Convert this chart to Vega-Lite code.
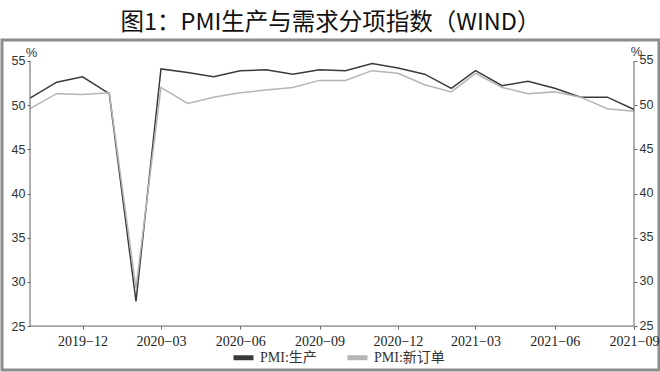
{
  "$schema": "https://vega.github.io/schema/vega-lite/v6.json",
  "width": 657,
  "height": 330,
  "autosize": {"type": "none"},
  "padding": {"left": 2, "top": 40, "right": 1, "bottom": 2},
  "background": "white",
  "title": {
    "text": "图1：PMI生产与需求分项指数（WIND）",
    "font": "Noto Sans CJK SC",
    "fontSize": 23.5,
    "fontWeight": "normal",
    "color": "#111111",
    "anchor": "middle",
    "frame": "group",
    "offset": 11,
    "dy": 24,
    "baseline": "alphabetic"
  },
  "config": {
    "view": {"stroke": "#8c8c8c", "strokeWidth": 3}
  },
  "data": {
    "values": [
      {"month": "2019-10-01", "PMI:生产": 50.8, "PMI:新订单": 49.6},
      {"month": "2019-11-01", "PMI:生产": 52.6, "PMI:新订单": 51.3},
      {"month": "2019-12-01", "PMI:生产": 53.2, "PMI:新订单": 51.2},
      {"month": "2020-01-01", "PMI:生产": 51.3, "PMI:新订单": 51.4},
      {"month": "2020-02-01", "PMI:生产": 27.8, "PMI:新订单": 29.3},
      {"month": "2020-03-01", "PMI:生产": 54.1, "PMI:新订单": 52.0},
      {"month": "2020-04-01", "PMI:生产": 53.7, "PMI:新订单": 50.2},
      {"month": "2020-05-01", "PMI:生产": 53.2, "PMI:新订单": 50.9},
      {"month": "2020-06-01", "PMI:生产": 53.9, "PMI:新订单": 51.4},
      {"month": "2020-07-01", "PMI:生产": 54.0, "PMI:新订单": 51.7},
      {"month": "2020-08-01", "PMI:生产": 53.5, "PMI:新订单": 52.0},
      {"month": "2020-09-01", "PMI:生产": 54.0, "PMI:新订单": 52.8},
      {"month": "2020-10-01", "PMI:生产": 53.9, "PMI:新订单": 52.8},
      {"month": "2020-11-01", "PMI:生产": 54.7, "PMI:新订单": 53.9},
      {"month": "2020-12-01", "PMI:生产": 54.2, "PMI:新订单": 53.6},
      {"month": "2021-01-01", "PMI:生产": 53.5, "PMI:新订单": 52.3},
      {"month": "2021-02-01", "PMI:生产": 51.9, "PMI:新订单": 51.5},
      {"month": "2021-03-01", "PMI:生产": 53.9, "PMI:新订单": 53.6},
      {"month": "2021-04-01", "PMI:生产": 52.2, "PMI:新订单": 52.0},
      {"month": "2021-05-01", "PMI:生产": 52.7, "PMI:新订单": 51.3},
      {"month": "2021-06-01", "PMI:生产": 51.9, "PMI:新订单": 51.5},
      {"month": "2021-07-01", "PMI:生产": 50.9, "PMI:新订单": 50.9},
      {"month": "2021-08-01", "PMI:生产": 50.9, "PMI:新订单": 49.6},
      {"month": "2021-09-01", "PMI:生产": 49.5, "PMI:新订单": 49.3}
    ]
  },
  "layer": [
    {
      "transform": [{"fold": ["PMI:生产", "PMI:新订单"], "as": ["series", "value"]}],
      "mark": {"type": "line", "strokeWidth": 1.5},
      "encoding": {
        "x": {
          "field": "month",
          "type": "temporal",
          "scale": {
            "type": "utc",
            "domain": [
              {"year": 2019, "month": 8, "date": 29, "hours": 12, "utc": true},
              {"year": 2021, "month": 9, "date": 30, "utc": true}
            ]
          },
          "axis": {
            "orient": "bottom",
            "offset": -44,
            "domain": false,
            "grid": false,
            "title": null,
            "values": [
              {"year": 2019, "month": 12, "date": 1, "utc": true},
              {"year": 2020, "month": 3, "date": 1, "utc": true},
              {"year": 2020, "month": 6, "date": 1, "utc": true},
              {"year": 2020, "month": 9, "date": 1, "utc": true},
              {"year": 2020, "month": 12, "date": 1, "utc": true},
              {"year": 2021, "month": 3, "date": 1, "utc": true},
              {"year": 2021, "month": 6, "date": 1, "utc": true},
              {"year": 2021, "month": 9, "date": 1, "utc": true}
            ],
            "labelExpr": "utcFormat(datum.value, '%Y') + '−' + utcFormat(datum.value, '%m')",
            "labelFlush": false,
            "labelOverlap": false,
            "tickSize": 3,
            "tickColor": "#606060",
            "labelFont": "Liberation Serif",
            "labelFontSize": 14,
            "labelColor": "#222222",
            "labelPadding": 5
          }
        },
        "y": {
          "field": "value",
          "type": "quantitative",
          "scale": {"domain": [20.03, 57.37], "nice": false, "zero": false},
          "axis": {
            "orient": "left",
            "offset": -28,
            "domain": false,
            "grid": false,
            "values": [25, 30, 35, 40, 45, 50, 55],
            "tickSize": 3,
            "tickColor": "#606060",
            "labelFont": "Liberation Sans",
            "labelFontSize": 12.5,
            "labelColor": "#333333",
            "labelPadding": 2,
            "title": "%",
            "titleAngle": 0,
            "titleX": 1,
            "titleY": 16,
            "titleAlign": "center",
            "titleBaseline": "alphabetic",
            "titleFont": "Liberation Sans",
            "titleFontSize": 13,
            "titleFontWeight": "normal",
            "titleColor": "#333333"
          }
        },
        "color": {
          "field": "series",
          "type": "nominal",
          "scale": {"domain": ["PMI:生产", "PMI:新订单"], "range": ["#3a3a3a", "#b5b5b5"]},
          "legend": {
            "orient": "none",
            "legendX": 229,
            "legendY": 305,
            "direction": "horizontal",
            "title": null,
            "symbolType": "stroke",
            "symbolSize": 400,
            "symbolStrokeWidth": 5,
            "labelFont": "Liberation Serif, Noto Sans CJK SC",
            "labelFontSize": 14,
            "labelColor": "#333333",
            "labelOffset": 4,
            "columnPadding": 20
          }
        }
      }
    },
    {
      "data": {"values": [{}]},
      "mark": {"type": "rule", "color": "#606060", "strokeWidth": 1},
      "encoding": {
        "x": {"datum": {"year": 2019, "month": 10, "date": 1, "utc": true}, "type": "temporal"},
        "y": {"datum": 25, "type": "quantitative", "scale": {"domain": [20.03, 57.37], "nice": false, "zero": false}, "axis": null},
        "y2": {"datum": 55}
      }
    },
    {
      "data": {"values": [{}]},
      "mark": {"type": "rule", "color": "#606060", "strokeWidth": 1},
      "encoding": {
        "x": {"datum": {"year": 2019, "month": 10, "date": 1, "utc": true}, "type": "temporal"},
        "x2": {"datum": {"year": 2021, "month": 9, "date": 1, "utc": true}},
        "y": {"datum": 25, "type": "quantitative", "scale": {"domain": [20.03, 57.37], "nice": false, "zero": false}, "axis": null}
      }
    },
    {
      "data": {"values": [{}]},
      "mark": {"type": "rule", "color": "#606060", "strokeWidth": 1},
      "encoding": {
        "x": {"datum": {"year": 2021, "month": 9, "date": 1, "utc": true}, "type": "temporal"},
        "y": {
          "datum": 25,
          "type": "quantitative",
          "scale": {"domain": [20.03, 57.37], "nice": false, "zero": false},
          "axis": {
            "orient": "right",
            "offset": -25,
            "domain": false,
            "grid": false,
            "values": [25, 30, 35, 40, 45, 50, 55],
            "tickSize": 3,
            "tickColor": "#606060",
            "labelFont": "Liberation Sans",
            "labelFontSize": 12.5,
            "labelColor": "#333333",
            "labelPadding": 2,
            "labelOffset": -1,
            "title": "%",
            "titleAngle": 0,
            "titleX": 2,
            "titleY": 15,
            "titleAlign": "center",
            "titleBaseline": "alphabetic",
            "titleFont": "Liberation Sans",
            "titleFontSize": 13,
            "titleFontWeight": "normal",
            "titleColor": "#333333"
          }
        },
        "y2": {"datum": 55}
      }
    }
  ],
  "resolve": {"scale": {"y": "independent"}}
}
